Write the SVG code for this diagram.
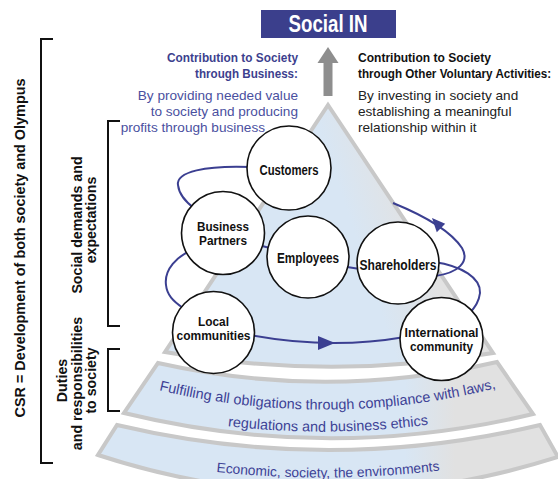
<svg xmlns="http://www.w3.org/2000/svg" width="558" height="479" viewBox="0 0 558 479">
<defs>
<linearGradient id="gp" gradientUnits="userSpaceOnUse" x1="335" y1="175" x2="395" y2="155">
<stop offset="0" stop-color="#d8e6f4"/>
<stop offset="1" stop-color="#e2e2e2"/>
</linearGradient>
<linearGradient id="gb" gradientUnits="userSpaceOnUse" x1="405" y1="0" x2="455" y2="0">
<stop offset="0" stop-color="#d8e6f4"/>
<stop offset="1" stop-color="#e1e1e1"/>
</linearGradient>
<path id="p1" d="M150,388 Q327,432 505,386"/>
<path id="p2" d="M190,421 Q328,443 466,419"/>
<path id="p3" d="M170,466 Q328,490 486,464"/>
<style>
.c{fill:#fff;stroke:#111;stroke-width:1.6}
.lbl{font-family:"Liberation Sans",Arial,sans-serif;font-weight:bold;font-size:14px;fill:#111;text-anchor:middle}
.l2{font-size:12.6px}
.orb{fill:none;stroke:#3b3f91;stroke-width:2}
.ah{fill:#3b3f91}
.br{fill:none;stroke:#111;stroke-width:2}
.rot{font-family:"Liberation Sans",Arial,sans-serif;font-weight:bold;font-size:14.2px;fill:#111;text-anchor:middle}
.hb{font-family:"Liberation Sans",Arial,sans-serif;font-weight:bold;font-size:13.5px;fill:#3d3f8e}
.hk{font-family:"Liberation Sans",Arial,sans-serif;font-weight:bold;font-size:13.5px;fill:#111}
.tb{font-family:"Liberation Sans",Arial,sans-serif;font-size:13.6px;fill:#4a50a0}
.tk{font-family:"Liberation Sans",Arial,sans-serif;font-size:13.6px;fill:#222}
.bt{font-family:"Liberation Sans",Arial,sans-serif;font-size:14.4px;fill:#3d4296}
.layer{stroke:#c8c8c8;stroke-width:4;stroke-linejoin:miter}
</style>
</defs>
<rect width="558" height="479" fill="#fff"/>

<g id="pyramid">
<path class="layer" d="M328,105 L165,352 Q329,381 493,353 Z" fill="url(#gp)"/>
</g>
<g id="band-laws">
<path class="layer" d="M158,363 Q327,401 497,362 L533,414 Q329,463 124,413 Z" fill="url(#gb)"/>
<text class="bt"><textPath href="#p1" startOffset="50%" text-anchor="middle">Fulfilling all obligations through compliance with laws,</textPath></text>
<text class="bt"><textPath href="#p2" startOffset="50%" text-anchor="middle">regulations and business ethics</textPath></text>
</g>
<g id="band-env">
<path class="layer" d="M117,425 Q329,475 540,425 L558,457 Q328,530 98,455 Z" fill="url(#gb)"/>
<text class="bt" style="font-size:13.8px"><textPath href="#p3" startOffset="50%" text-anchor="middle">Economic, society, the environments</textPath></text>
</g>

<g id="connectors">
<path class="orb" d="M252,167 C205,165 176,172 178,185 C179,195 186,202 195,209"/>
<path class="orb" d="M393,203 C420,214 450,230 462,248 C470,262 458,273 435,276"/>
<path class="orb" d="M262,246 L270,248"/>
<path class="orb" d="M347,267 L360,269"/>
<path class="orb" d="M196,248 C176,256 164,270 166,285 C167,295 173,301 183,308"/>
<path class="orb" d="M250,335 Q330,350 405,337"/>
<path class="orb" d="M434,262 C462,266 481,278 480,293 C479,301 476,306 469,314"/>
<polygon class="ah" points="432,218 445.2,223.8 436.8,232.2"/>
<polygon class="ah" points="335,343 318,336 318,350"/>
</g>

<g id="customers"><circle class="c" cx="289" cy="168" r="42"/><text class="lbl" x="289" y="175" textLength="59" lengthAdjust="spacingAndGlyphs">Customers</text></g>
<g id="business-partners"><circle class="c" cx="223" cy="233" r="41.5"/><text class="lbl l2" x="223" y="231" textLength="52" lengthAdjust="spacingAndGlyphs">Business</text><text class="lbl l2" x="223" y="244.5" textLength="48" lengthAdjust="spacingAndGlyphs">Partners</text></g>
<g id="employees"><circle class="c" cx="308" cy="257" r="41"/><text class="lbl" x="308" y="263" textLength="62" lengthAdjust="spacingAndGlyphs">Employees</text></g>
<g id="shareholders"><circle class="c" cx="398" cy="263" r="41"/><text class="lbl" x="398" y="270" textLength="77" lengthAdjust="spacingAndGlyphs">Shareholders</text></g>
<g id="local-communities"><circle class="c" cx="213.5" cy="332.5" r="41"/><text class="lbl l2" x="213.5" y="326" textLength="31" lengthAdjust="spacingAndGlyphs">Local</text><text class="lbl l2" x="213.5" y="339.5" textLength="74" lengthAdjust="spacingAndGlyphs">communities</text></g>
<g id="international-community"><circle class="c" cx="441.5" cy="339" r="41.5"/><text class="lbl l2" x="441.5" y="337" textLength="74" lengthAdjust="spacingAndGlyphs">International</text><text class="lbl l2" x="441.5" y="350.5" textLength="63" lengthAdjust="spacingAndGlyphs">community</text></g>

<g id="social-in">
<rect x="261" y="10" width="135" height="28" fill="#3b3f8c"/>
<text x="328" y="31.5" text-anchor="middle" textLength="79" lengthAdjust="spacingAndGlyphs" style="font-family:'Liberation Sans',Arial,sans-serif;font-weight:bold;font-size:23px;fill:#fff">Social IN</text>
</g>
<g id="up-arrow">
<polygon points="323.5,96 323.5,63 317.5,63 328,47 338.5,63 332.5,63 332.5,96" fill="#8e8e8e"/>
</g>

<g id="business-text">
<text class="hb" x="298" y="62" text-anchor="end" textLength="131" lengthAdjust="spacingAndGlyphs">Contribution to Society</text>
<text class="hb" x="298" y="78" text-anchor="end" textLength="103" lengthAdjust="spacingAndGlyphs">through Business:</text>
<text class="tb" x="298" y="100" text-anchor="end">By providing needed value</text>
<text class="tb" x="298" y="116" text-anchor="end">to society and producing</text>
<text class="tb" x="265" y="132" text-anchor="end">profits through business</text>
</g>
<g id="voluntary-text">
<text class="hk" x="358" y="62" textLength="133" lengthAdjust="spacingAndGlyphs">Contribution to Society</text>
<text class="hk" transform="translate(358,78) scale(0.865,1)" x="0" y="0">through Other Voluntary Activities:</text>
<text class="tk" x="358" y="100">By investing in society and</text>
<text class="tk" x="358" y="116">establishing a meaningful</text>
<text class="tk" x="358" y="132">relationship within it</text>
</g>

<g id="csr-bracket">
<path class="br" d="M53,39 L41,39 L41,463 L53,463"/>
<text class="rot" transform="translate(25,248) rotate(-90)" textLength="339" lengthAdjust="spacingAndGlyphs">CSR = Development of both society and Olympus</text>
</g>
<g id="social-demands-bracket">
<path class="br" d="M120,121 L108,121 L108,326 L120,326"/>
<text class="rot" transform="translate(82,225) rotate(-90)">Social demands and</text>
<text class="rot" transform="translate(96,220) rotate(-90)">expectations</text>
</g>
<g id="duties-bracket">
<path class="br" d="M120,349 L108,349 L108,411 L120,411"/>
<text class="rot" transform="translate(67,380.5) rotate(-90)">Duties</text>
<text class="rot" transform="translate(81.5,383.5) rotate(-90)">and responsibilities</text>
<text class="rot" transform="translate(96,380.5) rotate(-90)">to society</text>
</g>
</svg>
